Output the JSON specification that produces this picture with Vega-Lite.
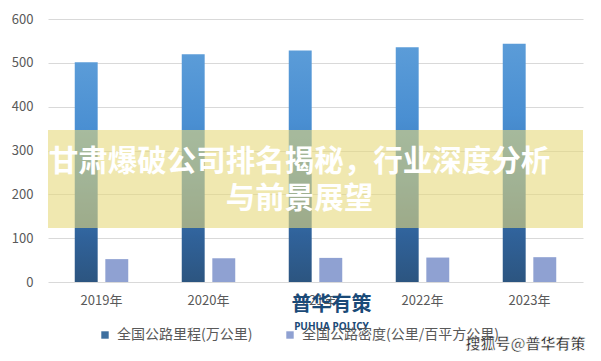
{
  "$schema": "https://vega.github.io/schema/vega-lite/v6.json",
  "width": 535,
  "height": 263,
  "autosize": "none",
  "padding": {"left": 48, "top": 19, "right": 18, "bottom": 79},
  "background": "#ffffff",
  "config": {
    "view": {"stroke": null},
    "font": "Noto Sans CJK SC",
    "axis": {"labelFont": "Noto Sans CJK SC", "labelColor": "#595959", "labelFontSize": 13, "title": null},
    "legend": {"labelFont": "Noto Sans CJK SC"}
  },
  "data": {
    "values": [
      {"year": "2019年", "series": "全国公路里程(万公里)", "value": 501.25},
      {"year": "2020年", "series": "全国公路里程(万公里)", "value": 519.81},
      {"year": "2021年", "series": "全国公路里程(万公里)", "value": 528.07},
      {"year": "2022年", "series": "全国公路里程(万公里)", "value": 535.48},
      {"year": "2023年", "series": "全国公路里程(万公里)", "value": 543.68},
      {"year": "2019年", "series": "全国公路密度(公里/百平方公里)", "value": 52.21},
      {"year": "2020年", "series": "全国公路密度(公里/百平方公里)", "value": 54.15},
      {"year": "2021年", "series": "全国公路密度(公里/百平方公里)", "value": 55.01},
      {"year": "2022年", "series": "全国公路密度(公里/百平方公里)", "value": 55.78},
      {"year": "2023年", "series": "全国公路密度(公里/百平方公里)", "value": 56.63}
    ]
  },
  "encoding": {
    "x": {
      "field": "year", "type": "nominal", "sort": null,
      "scale": {"paddingInner": 0.5, "paddingOuter": 0.25},
      "axis": {"labelAngle": 0, "domain": false, "ticks": false, "grid": false, "labelPadding": 12}
    },
    "y": {
      "field": "value", "type": "quantitative",
      "scale": {"domain": [0, 600], "nice": false, "zero": true},
      "axis": {"values": [0, 100, 200, 300, 400, 500, 600], "domain": false, "ticks": false, "gridColor": "#d9d9d9", "gridWidth": 1, "labelPadding": 15}
    },
    "xOffset": {
      "field": "series", "type": "nominal",
      "scale": {"domain": ["全国公路里程(万公里)", "全国公路密度(公里/百平方公里)"], "paddingInner": 0.25, "paddingOuter": 0}
    }
  },
  "layer": [
    {
      "transform": [{"filter": "datum.series === '全国公路里程(万公里)'"}],
      "mark": {
        "type": "bar",
        "color": {
          "gradient": "linear", "x1": 0, "y1": 0, "x2": 0, "y2": 1,
          "stops": [
            {"offset": 0, "color": "#5b9cd8"},
            {"offset": 0.3, "color": "#4a8fd2"},
            {"offset": 0.55, "color": "#3b7cbd"},
            {"offset": 0.8, "color": "#30629a"},
            {"offset": 1, "color": "#2c5580"}
          ]
        }
      }
    },
    {
      "transform": [{"filter": "datum.series === '全国公路密度(公里/百平方公里)'"}],
      "mark": {"type": "bar"},
      "encoding": {
        "color": {
          "field": "series", "type": "nominal",
          "scale": {"domain": ["全国公路里程(万公里)", "全国公路密度(公里/百平方公里)"], "range": ["#3d6f9f", "#8fa1d2"]},
          "legend": {
            "title": null, "orient": "none", "direction": "horizontal",
            "legendX": 50, "legendY": 309,
            "symbolType": "square", "symbolSize": 55, "symbolStrokeWidth": 0,
            "labelFontSize": 14, "labelColor": "#595959", "labelOffset": 5, "labelLimit": 0,
            "columnPadding": 30
          }
        }
      }
    },
    {
      "transform": [{"filter": "datum.year === '2021年' && datum.series === '全国公路里程(万公里)'"}],
      "mark": {"type": "rect", "color": "#e6d87b", "opacity": 0.6},
      "encoding": {
        "x": null, "xOffset": null,
        "y": {"datum": 347, "type": "quantitative"},
        "y2": {"datum": 123}
      }
    },
    {
      "transform": [{"filter": "datum.year === '2021年' && datum.series === '全国公路里程(万公里)'"}],
      "mark": {
        "type": "text", "text": ["甘肃爆破公司排名揭秘，行业深度分析", "与前景展望"],
        "font": "Noto Sans CJK SC", "fontWeight": "bold", "fontSize": 29.5,
        "color": "#ffffff", "align": "center", "baseline": "middle", "lineHeight": 37, "dx": -16
      },
      "encoding": {
        "xOffset": null,
        "y": {"datum": 274, "type": "quantitative"}
      }
    },
    {
      "transform": [{"filter": "datum.year === '2021年' && datum.series === '全国公路里程(万公里)'"}],
      "mark": {
        "type": "text", "text": "普华有策",
        "font": "Noto Sans CJK SC", "fontWeight": "bold", "fontSize": 20,
        "color": "#1a4a78", "align": "center", "baseline": "middle", "dx": 16
      },
      "encoding": {
        "xOffset": null,
        "y": {"datum": -52, "type": "quantitative"}
      }
    },
    {
      "transform": [{"filter": "datum.year === '2021年' && datum.series === '全国公路里程(万公里)'"}],
      "mark": {
        "type": "text", "text": "PUHUA POLICY",
        "font": "Noto Sans", "fontWeight": "bold", "fontSize": 10,
        "color": "#1a4a78", "align": "center", "baseline": "middle", "dx": 16
      },
      "encoding": {
        "xOffset": null,
        "y": {"datum": -102, "type": "quantitative"}
      }
    },
    {
      "transform": [{"filter": "datum.year === '2023年' && datum.series === '全国公路里程(万公里)'"}],
      "mark": {
        "type": "text", "text": "搜狐号@普华有策",
        "font": "Noto Sans CJK SC", "fontWeight": "bold", "fontSize": 15,
        "color": "#2a2a2a", "stroke": "#ffffff", "strokeWidth": 0.6,
        "align": "center", "baseline": "middle", "dx": -4
      },
      "encoding": {
        "xOffset": null,
        "y": {"datum": -141, "type": "quantitative"}
      }
    }
  ]
}
